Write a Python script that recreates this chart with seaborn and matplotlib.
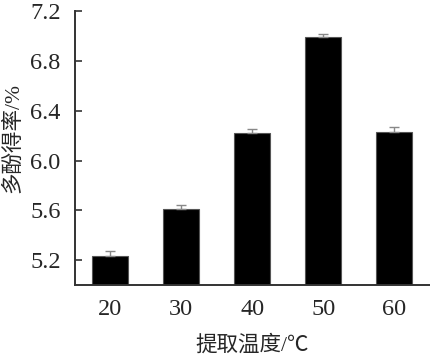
import matplotlib
matplotlib.use("Agg")
import matplotlib.pyplot as plt
import seaborn as sns
import numpy as np

categories = ["20", "30", "40", "50", "60"]
values = [5.238, 5.613, 6.224, 6.986, 6.232]
errors = [0.038, 0.030, 0.030, 0.030, 0.035]
yticks = [5.2, 5.6, 6.0, 6.4, 6.8, 7.2]
xlabel = "提取温度/℃"
ylabel = "多酚得率/%"

sns.set_style("ticks")
plt.rcParams['font.family'] = ['Liberation Serif', 'Noto Sans CJK SC', 'DejaVu Sans']

fig = plt.figure(figsize=(4.31, 3.58), dpi=100)
ax = fig.add_axes([0.173, 0.203, 0.824, 0.767])

sns.barplot(x=categories, y=values, color="black", width=0.5, errorbar=None,
            edgecolor="#555555", linewidth=0.8, saturation=1, ax=ax)
ax.errorbar(np.arange(len(categories)), values, yerr=[np.zeros(len(errors)), errors],
            fmt="none", ecolor="#888888", elinewidth=1.0, capsize=3.5, capthick=1.0, zorder=3)

ax.set_ylim(5.0, 7.2)
ax.set_xlim(-0.5, 4.5)
ax.set_yticks(yticks)
ax.set_yticklabels([f"{t:.1f}" for t in yticks])

sns.despine(ax=ax)
for s in ["left", "bottom"]:
    ax.spines[s].set_linewidth(1.4)
    ax.spines[s].set_color("#333333")
ax.spines["left"].set_bounds(5.0, 7.2)

ax.tick_params(axis="y", direction="in", length=5, width=1.2, color="#333333",
               labelsize=17.5, pad=10)
ax.tick_params(axis="x", length=0, labelsize=17.5, pad=10)

ax.set_xlabel(xlabel, fontsize=15.5, labelpad=11)
ax.set_ylabel(ylabel, fontsize=15.5)
ax.yaxis.label.set_va("center")
ax.yaxis.set_label_coords(-0.173, 0.536)

fig.savefig("out.png", dpi=100)
